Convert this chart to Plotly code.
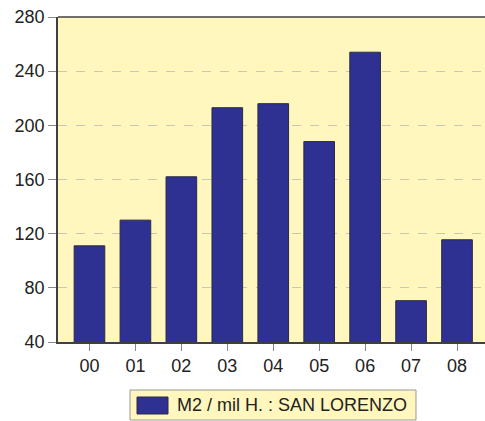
import plotly.graph_objects as go

categories = ["00", "01", "02", "03", "04", "05", "06", "07", "08"]
values = [111, 130, 162, 213, 216, 188, 254, 70.5, 115.5]
y_ticks = [40, 80, 120, 160, 200, 240, 280]
series_name = "M2 / mil H. : SAN LORENZO"

BAR = "#2E3192"
BG = "#FFF7BD"
FONT = "Arial, Liberation Sans, sans-serif"
TICKFONT = dict(family=FONT, size=18, color="#222222")

fig = go.Figure()
fig.add_trace(go.Bar(
    x=list(range(len(categories))), y=values, name=series_name,
    marker=dict(color=BAR, line=dict(color="#2a2a40", width=1)),
    showlegend=False,
))

fig.update_layout(
    width=485, height=421,
    margin=dict(l=58, r=0, t=17, b=79),
    paper_bgcolor="white", plot_bgcolor=BG,
    bargap=0.333,
    font=dict(family=FONT, size=18, color="#222222"),
    xaxis=dict(
        tickmode="array", tickvals=list(range(len(categories))), ticktext=categories,
        range=[-0.685, 8.609], showgrid=False, zeroline=False,
        showline=True, linecolor="#404040", linewidth=1.5, mirror=False,
        ticks="outside", ticklen=7, tickcolor="#888888", tickwidth=1,
        tickfont=TICKFONT,
    ),
    yaxis=dict(
        range=[40, 280], tickvals=y_ticks, showgrid=True,
        gridcolor="#C8C8B4", griddash="dash", gridwidth=1, zeroline=False,
        showline=True, linecolor="#404040", linewidth=1.5,
        ticks="outside", ticklen=8, tickcolor="#888888", tickwidth=1,
        tickfont=TICKFONT,
    ),
    shapes=[
        dict(type="line", xref="paper", yref="paper", x0=0, x1=1, y0=1, y1=1,
             line=dict(color="#404040", width=1.5)),
        dict(type="rect", xref="paper", yref="paper",
             x0=(130 - 58) / 427, x1=(416 - 58) / 427,
             y0=-(420 - 342) / 325, y1=-(390 - 342) / 325,
             fillcolor=BG, line=dict(color="#999999", width=1)),
        dict(type="rect", xref="paper", yref="paper",
             x0=(137 - 58) / 427, x1=(168 - 58) / 427,
             y0=-(414 - 342) / 325, y1=-(397 - 342) / 325,
             fillcolor=BAR, line=dict(color="#2a2a40", width=1)),
    ],
    annotations=[
        dict(text=series_name, xref="paper", yref="paper",
             x=(175 - 58) / 427, y=-(405 - 342) / 325,
             xanchor="left", yanchor="middle", showarrow=False,
             font=dict(family=FONT, size=18, color="#222222")),
    ],
)

fig.write_html(
    "out.html",
    config={"displayModeBar": False},
    post_script="document.body.style.margin='0';document.body.style.overflow='hidden';",
)
